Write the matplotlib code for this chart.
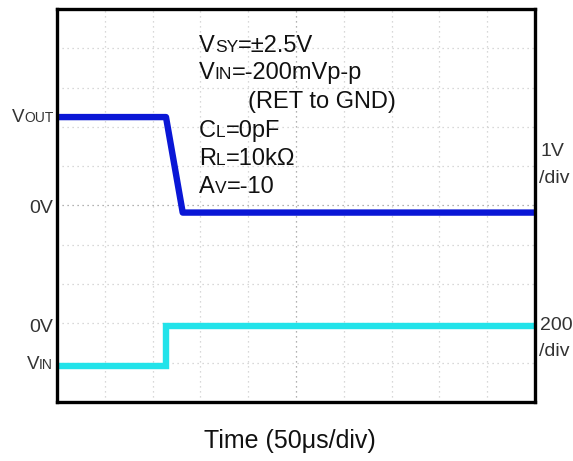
import matplotlib
matplotlib.use("Agg")
import matplotlib.pyplot as plt
from matplotlib.offsetbox import TextArea, HPacker, AnnotationBbox

plt.rcParams['font.family'] = ['Liberation Sans', 'DejaVu Sans']

# traces in scope divisions (10 x 10 grid, y=0 at bottom)
t_out = [0, 2.28, 2.63, 10]
v_out = [7.25, 7.25, 4.82, 4.82]
t_in = [0, 2.28, 2.28, 10]
v_in = [0.92, 0.92, 1.93, 1.93]

cond_lines = [
    [("V", 17), ("SY", 12.5), ("=\u00b12.5V", 17)],
    [("V", 17), ("IN", 12.5), ("=-200mVp-p", 17)],
    [("(RET to GND)", 17)],
    [("C", 17), ("L", 12.5), ("=0pF", 17)],
    [("R", 17), ("L", 12.5), ("=10k\u03a9", 17)],
    [("A", 17), ("V", 12.5), ("=-10", 17)],
]
cond_pos = [(199, 46), (199, 73), (248, 102), (199, 131), (199, 159), (199, 187)]

W, H = 573, 461
fig = plt.figure(figsize=(W / 100, H / 100), dpi=100)
ax = fig.add_axes([57 / W, (H - 402) / H, 478 / W, 393 / H])
ax.set_xlim(0, 10)
ax.set_ylim(0, 10)
ax.set_xticks([])
ax.set_yticks([])
for s in ax.spines.values():
    s.set_linewidth(2.4)
    s.set_color('black')

# scope graticule
for i in range(1, 10):
    c = '#999999' if i == 5 else '#cccccc'
    ax.axvline(i, color=c, lw=0.9, ls=(0, (1, 3)), zorder=0)
    ax.axhline(i, color=c, lw=0.9, ls=(0, (1, 3)), zorder=0)

ax.plot(t_out, v_out, color='#0a17d6', lw=4.6, solid_joinstyle='round')
ax.plot(t_in, v_in, color='#22e3ea', lw=4.6, solid_joinstyle='miter')


def label(parts, x, y, align=(0, 0.5), color='#111111'):
    kids = [TextArea(t, textprops=dict(size=s, color=color)) for t, s in parts]
    box = HPacker(children=kids, align='baseline', pad=0, sep=0)
    ab = AnnotationBbox(box, (x, H - y), xycoords='figure pixels',
                        box_alignment=align, frameon=False, pad=0)
    fig.add_artist(ab)


for parts, (x, y) in zip(cond_lines, cond_pos):
    label(parts, x, y)

# left side markers
label([("V", 13.5), ("OUT", 10)], 54, 117, align=(1, 0.5), color='#333333')
label([("0V", 14)], 53, 208, align=(1, 0.5), color='#333333')
label([("0V", 14)], 53, 327, align=(1, 0.5), color='#333333')
label([("V", 13.5), ("IN", 10)], 53, 364, align=(1, 0.5), color='#333333')

# right side scale
label([("1V", 14)], 540, 151, align=(0, 0.5), color='#333333')
label([("/div", 14)], 539, 178, align=(0, 0.5), color='#333333')
label([("200mV", 14)], 540, 325, align=(0, 0.5), color='#333333')
label([("/div", 14)], 539, 351, align=(0, 0.5), color='#333333')

fig.text(290 / W, 1 - 441 / H, 'Time (50\u03bcs/div)', ha='center', va='center',
         size=18, color='#111111')

fig.savefig('out.png', dpi=100)
